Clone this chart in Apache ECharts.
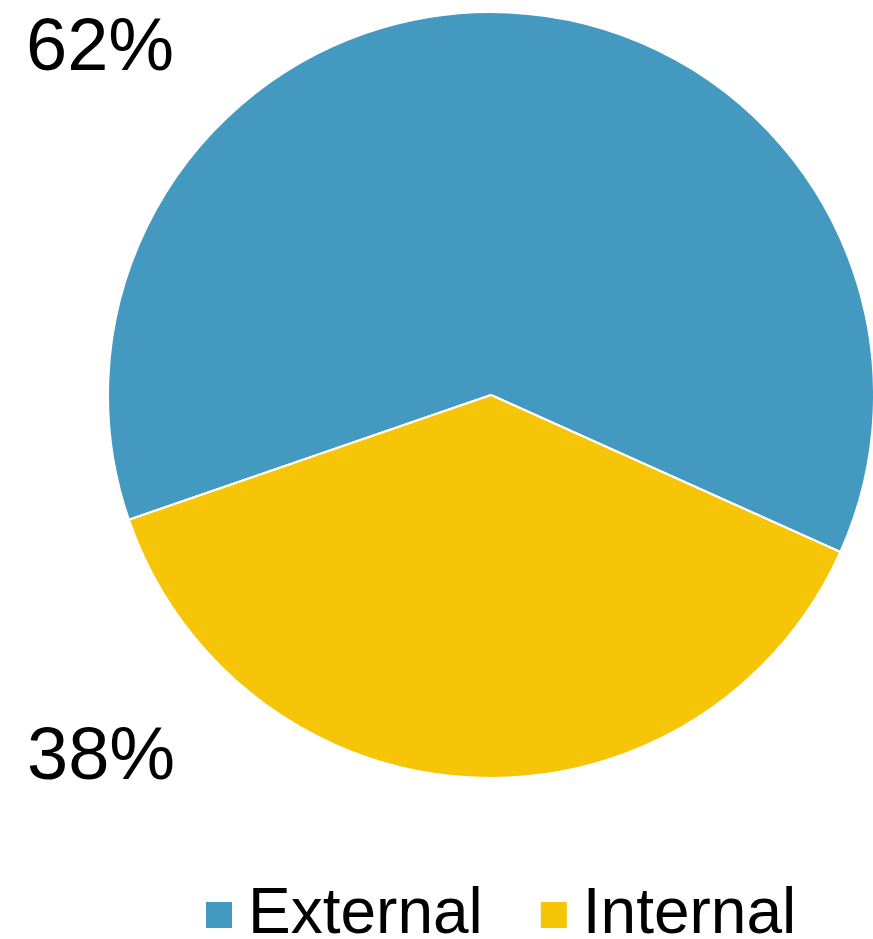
<!DOCTYPE html>
<html>
<head>
<meta charset="utf-8">
<script src="https://cdn.jsdelivr.net/npm/echarts@6/dist/echarts.min.js"></script>
<style>html,body{margin:0;padding:0;background:#fff}#c{width:873px;height:939px}</style>
</head>
<body>
<div id="c"></div>
<script>
var categories = ['External', 'Internal'];
var values = [62, 38];
var colors = ['#4499C1', '#F7C508'];
var labelSpots = [[26, 50], [27, 759]];

var chart = echarts.init(document.getElementById('c'));
chart.setOption({
  animation: false,
  color: colors,
  legend: {
    data: categories,
    left: 199,
    top: 878,
    icon: 'rect',
    itemWidth: 28,
    itemHeight: 28,
    itemGap: 56,
    textStyle: {
      fontFamily: 'Liberation Sans, Arial, sans-serif',
      fontSize: 64,
      color: '#000',
      padding: [0, 0, 0, 10]
    }
  },
  series: [{
    type: 'pie',
    center: [491, 395],
    radius: 383,
    startAngle: 199,
    clockwise: true,
    itemStyle: { borderColor: '#fff', borderWidth: 2 },
    label: {
      show: true,
      position: 'outside',
      formatter: '{c}%',
      fontFamily: 'Liberation Sans, Arial, sans-serif',
      fontSize: 74,
      color: '#000'
    },
    labelLine: { show: false },
    labelLayout: function (p) {
      var s = labelSpots[p.dataIndex];
      return { x: s[0], y: s[1], align: 'left', verticalAlign: 'middle' };
    },
    emphasis: { disabled: true },
    data: categories.map(function (c, i) { return { name: c, value: values[i] }; })
  }]
});
</script>
</body>
</html>
